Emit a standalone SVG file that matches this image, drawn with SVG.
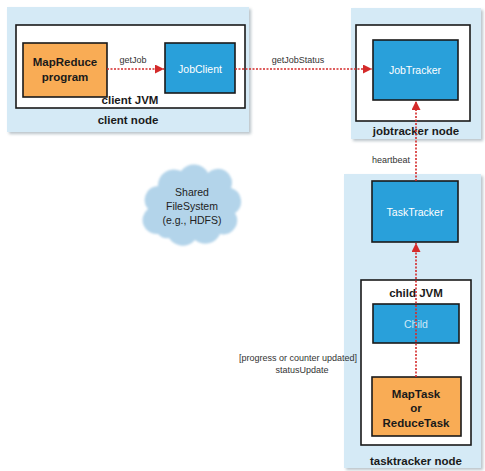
<svg xmlns="http://www.w3.org/2000/svg" width="485" height="471" viewBox="0 0 485 471">
<defs>
<style>
.node{fill:#d5eaf6;}
.shadow{fill:#b9c3c9;}
.jvm{fill:#ffffff;stroke:#1a1a1a;stroke-width:1.6;}
.blue{fill:#29a0da;stroke:#1a1a1a;stroke-width:1.6;}
.orange{fill:#f9ac55;stroke:#1a1a1a;stroke-width:1.6;}
text{font-family:"Liberation Sans",Arial,sans-serif;text-anchor:middle;}
.bold{font-weight:bold;fill:#1a1a1a;font-size:11.5px;}
.white{fill:#ffffff;font-size:10.5px;}
.lbl{fill:#333333;font-size:9px;}
.cloudtxt{fill:#222222;font-size:10.5px;}
.conn{stroke:#d42a2a;stroke-width:1.6;stroke-dasharray:2 1.5;fill:none;}
</style>
<marker id="ah" viewBox="0 0 10 10" refX="10" refY="5" markerWidth="9" markerHeight="9" markerUnits="userSpaceOnUse" orient="auto">
<path d="M0 0 L10 5 L0 10 Z" fill="#d42a2a"/>
</marker>
<filter id="soft" x="-10%" y="-10%" width="120%" height="120%"><feGaussianBlur stdDeviation="1.2"/></filter>
<filter id="blur2" x="-10%" y="-10%" width="120%" height="120%"><feGaussianBlur stdDeviation="1.5"/></filter>
</defs>

<g id="client-node">
<rect class="shadow" x="9" y="9" width="242" height="125" filter="url(#blur2)"/>
<rect class="node" x="7" y="7" width="242" height="125"/>
<text class="bold" x="128" y="124">client node</text>
</g>
<g id="client-jvm">
<rect class="jvm" x="16" y="25" width="229" height="83"/>
<text class="bold" x="130" y="104">client JVM</text>
</g>
<g id="mapreduce-program">
<rect class="orange" x="23" y="43" width="84" height="54"/>
<text class="bold" x="65" y="66">MapReduce</text>
<text class="bold" x="65" y="81">program</text>
</g>
<g id="jobclient">
<rect class="blue" x="165" y="43" width="70" height="50"/>
<text class="white" x="200" y="73">JobClient</text>
</g>

<g id="jobtracker-node">
<rect class="shadow" x="353" y="10" width="130" height="131" filter="url(#blur2)"/>
<rect class="node" x="351" y="8" width="130" height="131"/>
<rect class="jvm" x="356" y="25" width="114" height="96"/>
<text class="bold" x="416" y="135">jobtracker node</text>
</g>
<g id="jobtracker">
<rect class="blue" x="373" y="40" width="85" height="60"/>
<text class="white" x="415" y="74">JobTracker</text>
</g>

<g id="shared-filesystem">
<path d="M158 234 a14 14 0 0 1 -10 -25 a14 14 0 0 1 10 -23 a16 16 0 0 1 23 -15 a16 16 0 0 1 27 2 a14 14 0 0 1 23 15 a14 14 0 0 1 4 25 a14 14 0 0 1 -15 21 a16 16 0 0 1 -25 6 a16 16 0 0 1 -26 -2 a12 12 0 0 1 -11 -4 Z" fill="#b3d4ea" filter="url(#soft)"/>
<text class="cloudtxt" x="192" y="196">Shared</text>
<text class="cloudtxt" x="192" y="210">FileSystem</text>
<text class="cloudtxt" x="192" y="224">(e.g., HDFS)</text>
</g>

<g id="tasktracker-node">
<rect class="shadow" x="346" y="176" width="137" height="294" filter="url(#blur2)"/>
<rect class="node" x="344" y="174" width="137" height="294"/>
<text class="bold" x="416" y="465">tasktracker node</text>
</g>
<g id="tasktracker">
<rect class="blue" x="372" y="181" width="86" height="61"/>
<text class="white" x="415" y="216">TaskTracker</text>
</g>
<g id="child-jvm">
<rect class="jvm" x="361" y="280" width="110" height="165"/>
<text class="bold" x="416" y="297">child JVM</text>
</g>
<g id="child">
<rect class="blue" x="373" y="304" width="86" height="39"/>
<text class="white" style="fill:#cfe8f7" x="416" y="328">Child</text>
</g>
<g id="maptask">
<rect class="orange" x="372" y="377" width="89" height="59"/>
<text class="bold" x="416" y="398">MapTask</text>
<text class="bold" x="416" y="412">or</text>
<text class="bold" x="416" y="427">ReduceTask</text>
</g>

<g id="connectors">
<line class="conn" x1="107" y1="69" x2="164" y2="69" marker-end="url(#ah)"/>
<text class="lbl" x="133" y="63">getJob</text>
<line class="conn" x1="235" y1="69" x2="372" y2="69" marker-end="url(#ah)"/>
<text class="lbl" x="298" y="63">getJobStatus</text>
<line class="conn" x1="416" y1="181" x2="416" y2="101" marker-end="url(#ah)"/>
<text class="lbl" x="391" y="163">heartbeat</text>
<line class="conn" x1="416" y1="377" x2="416" y2="243" marker-end="url(#ah)"/>
<text class="lbl" style="text-anchor:end" x="357" y="361">[progress or counter updated]</text>
<text class="lbl" x="302" y="373">statusUpdate</text>
</g>
</svg>
